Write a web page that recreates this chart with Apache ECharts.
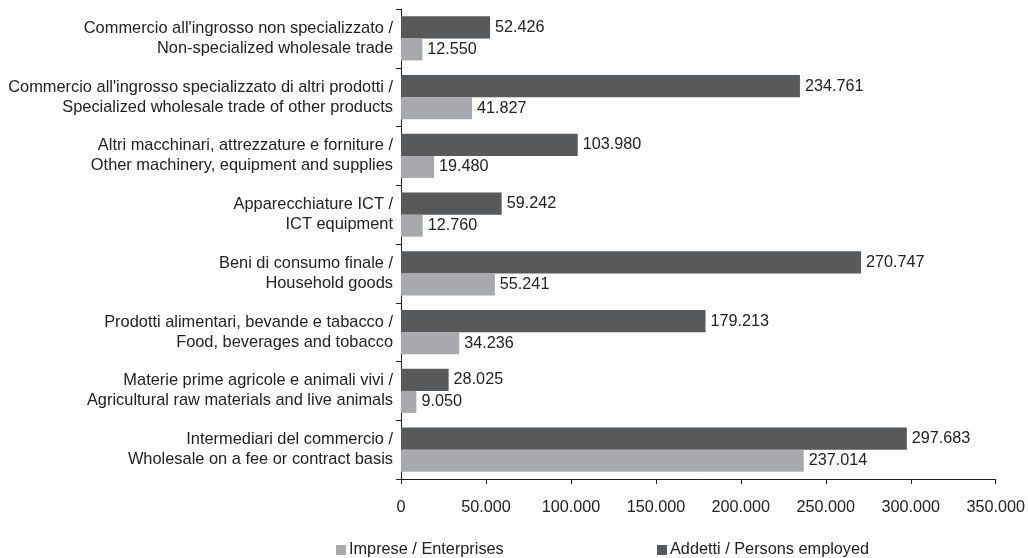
<!DOCTYPE html>
<html>
<head>
<meta charset="utf-8">
<script src="https://cdn.jsdelivr.net/npm/echarts@6/dist/echarts.min.js"></script>
<style>
  html, body { margin: 0; padding: 0; background: #fff; }
  #chart { width: 1028px; height: 558px; }
</style>
</head>
<body>
<div id="chart"></div>
<script>
// Sectors listed bottom to top on the category axis
const categories = [
  "Intermediari del commercio /\nWholesale on a fee or contract basis",
  "Materie prime agricole e animali vivi /\nAgricultural raw materials and live animals",
  "Prodotti alimentari, bevande e tabacco /\nFood, beverages and tobacco",
  "Beni di consumo finale /\nHousehold goods",
  "Apparecchiature ICT /\nICT equipment",
  "Altri macchinari, attrezzature e forniture /\nOther machinery, equipment and supplies",
  "Commercio all'ingrosso specializzato di altri prodotti /\nSpecialized wholesale trade of other products",
  "Commercio all'ingrosso non specializzato /\nNon-specialized wholesale trade"
];
const enterprises = [237014, 9050, 34236, 55241, 12760, 19480, 41827, 12550];
const employed = [297683, 28025, 179213, 270747, 59242, 103980, 234761, 52426];
const seriesNames = ["Imprese / Enterprises", "Addetti / Persons employed"];

const fmt = v => String(v).replace(/\B(?=(\d{3})+(?!\d))/g, ".");
const FONT = "Liberation Sans, Arial, sans-serif";
const TXT = "#222";

const legendItem = (name, left) => ({
  data: [name], left: left, top: 537,
  itemWidth: 10, itemHeight: 10, itemGap: 0, icon: "rect",
  textStyle: { fontFamily: FONT, fontSize: 16.3, color: TXT, padding: [0, 0, 0, -2] }
});

const valueLabel = {
  show: true, position: "right", formatter: p => fmt(p.value),
  fontSize: 16.2, color: TXT, distance: 5, fontFamily: FONT
};

const chart = echarts.init(document.getElementById("chart"), null, { renderer: "canvas" });
chart.setOption({
  animation: false,
  textStyle: { fontFamily: FONT },
  grid: { left: 401, right: 25, top: 9, bottom: 79 },
  legend: [legendItem(seriesNames[0], 331), legendItem(seriesNames[1], 652)],
  xAxis: {
    type: "value", min: 0, max: 350000, interval: 50000,
    axisLine: { show: true, lineStyle: { color: TXT, width: 1 } },
    axisTick: { show: true, length: 5, lineStyle: { color: TXT } },
    splitLine: { show: false },
    axisLabel: { formatter: fmt, fontSize: 16.2, color: TXT, margin: 21, fontFamily: FONT }
  },
  yAxis: {
    type: "category", data: categories,
    axisLine: { show: true, lineStyle: { color: TXT, width: 1 } },
    axisTick: { show: true, length: 5, lineStyle: { color: TXT } },
    axisLabel: { fontSize: 16.4, color: TXT, lineHeight: 20, align: "right", margin: 8, fontFamily: FONT }
  },
  series: [
    {
      // drawn as the upper bar of each pair
      name: seriesNames[1], type: "bar", data: employed,
      itemStyle: { color: "#58595b" },
      barGap: "0%", barCategoryGap: "25%",
      label: valueLabel
    },
    {
      name: seriesNames[0], type: "bar", data: enterprises,
      itemStyle: { color: "#a7a9ac" },
      barGap: "0%", barCategoryGap: "25%",
      label: valueLabel
    }
  ]
});
</script>
</body>
</html>
